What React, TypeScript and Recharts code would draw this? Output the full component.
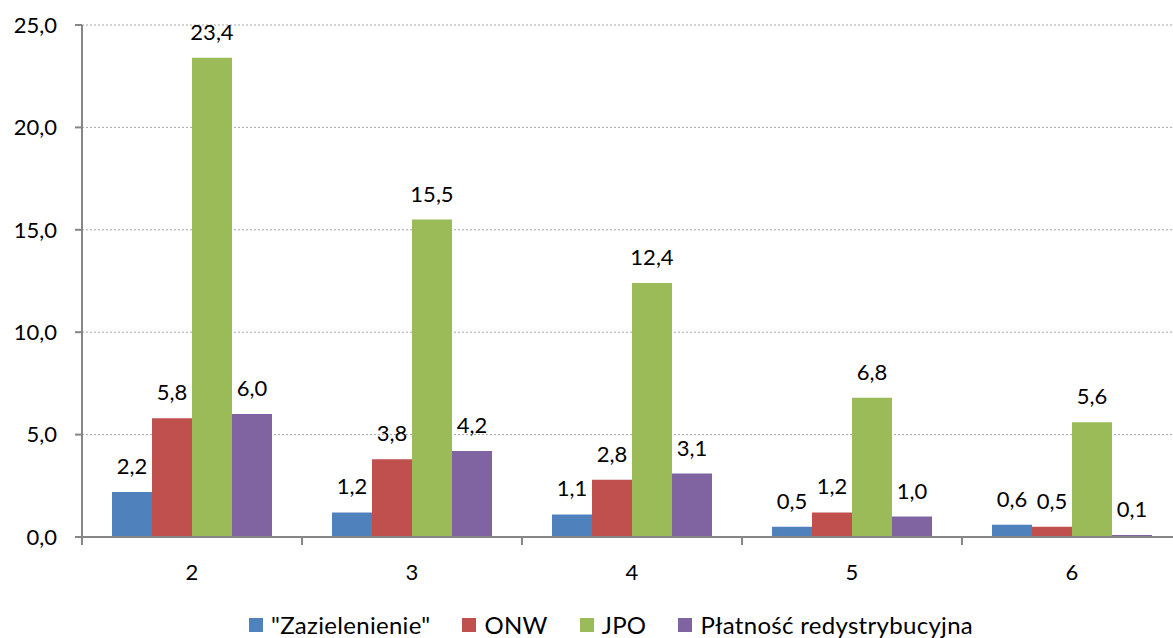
import React from 'react';
import { BarChart, Bar, XAxis, YAxis, CartesianGrid, LabelList } from 'recharts';

const categories = ['2', '3', '4', '5', '6'];
const zazielenienie = [2.2, 1.2, 1.1, 0.5, 0.6];
const onw = [5.8, 3.8, 2.8, 1.2, 0.5];
const jpo = [23.4, 15.5, 12.4, 6.8, 5.6];
const platnosc = [6.0, 4.2, 3.1, 1.0, 0.1];
const yTicks = [0, 5, 10, 15, 20, 25];

const series = [
  { key: 'zaz', name: '"Zazielenienie"', color: '#4F81BD', values: zazielenienie },
  { key: 'onw', name: 'ONW', color: '#C0504D', values: onw },
  { key: 'jpo', name: 'JPO', color: '#9BBB59', values: jpo },
  { key: 'pr', name: 'Płatność redystrybucyjna', color: '#8064A2', values: platnosc },
];

const data = categories.map((c, i) => {
  const row: any = { cat: c };
  series.forEach((s) => {
    row[s.key] = s.values[i];
  });
  return row;
});

const FONT = 'Lato, "Open Sans", sans-serif';
const CHART_W = 1200;
const Y_W = 82;
const RIGHT = 18;
const band = (CHART_W - Y_W - RIGHT) / categories.length;

const fmt = (v: any) => Number(v).toFixed(1).replace('.', ',');

// category label in the middle, tick mark on the left edge of each band
const CatTick = (props: any) => {
  const { x, y, payload } = props;
  const left = x - band / 2;
  return (
    <g>
      <line x1={left} y1={y} x2={left} y2={y + 8} stroke="#868686" strokeWidth={2} />
      <text x={x} y={y + 35} dy="0.35em" textAnchor="middle" fill="#000" fontSize={22} fontFamily={FONT}>
        {payload.value}
      </text>
    </g>
  );
};

export default function App() {
  return (
    <div
      style={{
        position: 'absolute',
        left: 0,
        top: 0,
        width: 1173,
        height: 638,
        overflow: 'hidden',
        background: '#fff',
      }}
    >
      <BarChart
        width={CHART_W}
        height={638}
        data={data}
        margin={{ top: 25, right: RIGHT, left: 0, bottom: 0 }}
        barCategoryGap={30}
        barGap={0}
      >
        <CartesianGrid vertical={false} stroke="#a6a6a6" strokeDasharray="2 2" />
        <XAxis
          dataKey="cat"
          height={101}
          axisLine={{ stroke: '#868686', strokeWidth: 2 }}
          tickLine={false}
          tickSize={0}
          tickMargin={0}
          tick={<CatTick />}
          interval={0}
        />
        <YAxis
          width={Y_W}
          domain={[0, 25]}
          ticks={yTicks}
          interval={0}
          tickFormatter={fmt}
          axisLine={{ stroke: '#868686', strokeWidth: 2 }}
          tickLine={{ stroke: '#868686', strokeWidth: 2 }}
          tickSize={7}
          tickMargin={18}
          tick={{ fill: '#000', fontSize: 22, fontFamily: FONT }}
        />
        {series.map((s) => (
          <Bar key={s.key} dataKey={s.key} name={s.name} fill={s.color} isAnimationActive={false}>
            <LabelList
              dataKey={s.key}
              position="top"
              offset={18}
              formatter={fmt}
              fill="#000"
              fontSize={22}
              fontFamily={FONT}
            />
          </Bar>
        ))}
      </BarChart>
      <div
        style={{
          position: 'absolute',
          left: 249,
          top: 610,
          display: 'flex',
          alignItems: 'center',
          fontFamily: FONT,
          fontSize: 24,
          letterSpacing: 0.3,
          color: '#000',
          whiteSpace: 'nowrap',
        }}
      >
        {series.map((s) => (
          <div key={s.key} style={{ display: 'flex', alignItems: 'center', marginRight: 32 }}>
            <div style={{ width: 14, height: 14, background: s.color, marginRight: 8 }} />
            <span>{s.name}</span>
          </div>
        ))}
      </div>
    </div>
  );
}
